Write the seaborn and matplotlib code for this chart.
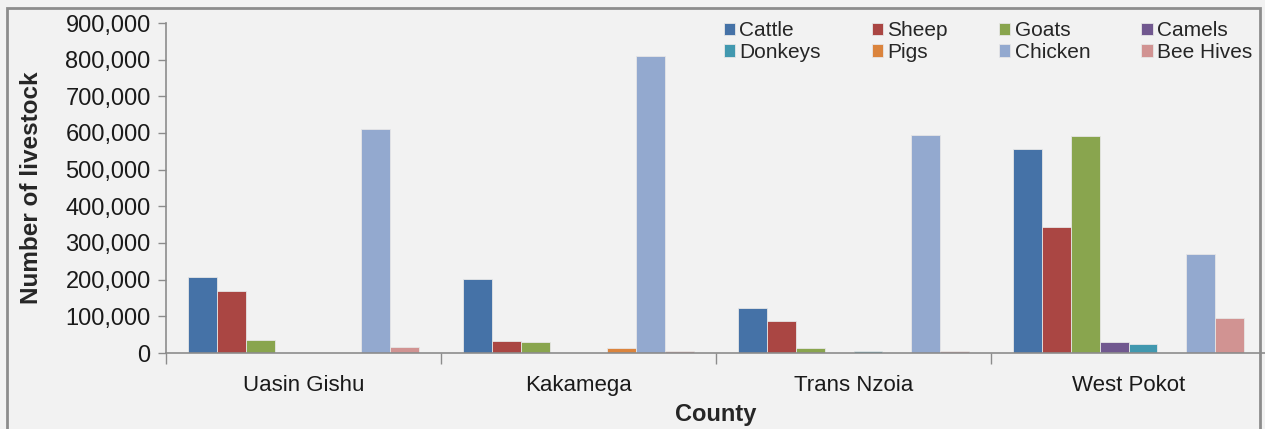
import pandas as pd
import matplotlib.pyplot as plt
import matplotlib.ticker as mticker
from matplotlib.patches import Rectangle
import seaborn as sns

# Daten
counties = ['Uasin Gishu', 'Kakamega', 'Trans Nzoia', 'West Pokot']
animals = ['Cattle', 'Sheep', 'Goats', 'Camels', 'Donkeys', 'Pigs', 'Chicken', 'Bee Hives']

cattle = [207000, 201000, 123000, 556000]
sheep = [169000, 33000, 88000, 344000]
goats = [35000, 29000, 14500, 592000]
camels = [0, 0, 0, 29000]
donkeys = [0, 0, 4500, 25000]
pigs = [0, 14500, 0, 0]
chicken = [611000, 810000, 595000, 269000]
bee_hives = [15500, 5000, 4500, 95000]

colors = ['#4572A7', '#AA4643', '#89A54E', '#71588F',
          '#4198AF', '#DB843D', '#93A9CF', '#D19392']

values = [cattle, sheep, goats, camels, donkeys, pigs, chicken, bee_hives]
rows = []
for animal, vals in zip(animals, values):
    for county, v in zip(counties, vals):
        rows.append({'County': county, 'Animal': animal, 'Count': v})
data = pd.DataFrame(rows)

sns.set_style('white')
plt.rcParams['font.family'] = ['Liberation Sans', 'DejaVu Sans']

bg = '#f2f2f2'
fig = plt.figure(figsize=(12.65, 4.29), dpi=100, facecolor=bg)
ax = fig.add_axes([166 / 1265, (429 - 353) / 429, 1100 / 1265, 330 / 429])
ax.set_facecolor(bg)

sns.barplot(
    data=data, x='County', y='Count', hue='Animal',
    order=counties, hue_order=animals,
    palette=dict(zip(animals, colors)), saturation=1,
    width=0.84, gap=0, errorbar=None,
    edgecolor='#e6e6e6', linewidth=0.6, ax=ax
)

ax.set_xlim(-0.5, 3.5)
ax.set_ylim(0, 900000)
ax.yaxis.set_major_locator(mticker.MultipleLocator(100000))
ax.yaxis.set_major_formatter(mticker.FuncFormatter(lambda v, p: f'{int(v):,}'))

# Kategorie-Trennstriche auf der x-Achse
ax.set_xticks([0, 1, 2, 3])
ax.set_xticklabels(counties)
ax.set_xticks([-0.5, 0.5, 1.5, 2.5, 3.5], minor=True)
ax.tick_params(axis='x', which='major', length=0, pad=16, labelsize=16, labelcolor='#1a1a1a')
ax.tick_params(axis='x', which='minor', bottom=True, length=8, width=1,
               color='#8c8c8c', direction='out')
ax.tick_params(axis='y', length=6, width=1, color='#8c8c8c', direction='out',
               left=True, labelsize=17, pad=5, labelcolor='#1a1a1a')

for side in ['top', 'right']:
    ax.spines[side].set_visible(False)
for side in ['left', 'bottom']:
    ax.spines[side].set_color('#8c8c8c')
    ax.spines[side].set_linewidth(1.2)

ax.set_xlabel('County', fontsize=17, fontweight='bold', labelpad=5)
ax.set_ylabel('Number of livestock', fontsize=17.5, fontweight='bold', labelpad=16)

# Legende zeilenweise wie im Original
handles, labels = ax.get_legend_handles_labels()
order = [0, 4, 1, 5, 2, 6, 3, 7]
ax.legend(
    [handles[i] for i in order], [labels[i] for i in order],
    ncol=4, loc='upper right', bbox_to_anchor=(0.995, 1.03), frameon=False,
    fontsize=15, handlelength=0.55, handleheight=0.55, handletextpad=0.2,
    columnspacing=2.45, labelspacing=0.12, borderaxespad=0
)

# Rahmen um die Grafik
fig.patches.append(Rectangle((7 / 1265, -0.05), (1260 - 7) / 1265, 1.05 - 8 / 429,
                             transform=fig.transFigure, fill=False,
                             edgecolor='#8c8c8c', linewidth=2))

fig.savefig('out.png', dpi=100, facecolor=bg)
